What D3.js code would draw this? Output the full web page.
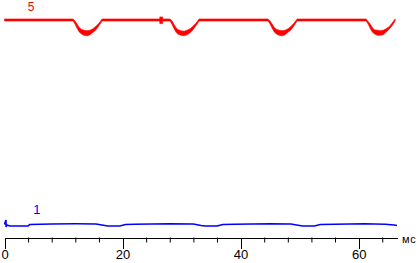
<!DOCTYPE html>
<html>
<head>
<meta charset="utf-8">
<script src="https://cdn.jsdelivr.net/npm/d3@7"></script>
<style>
  html, body { margin: 0; padding: 0; background: #fff; }
  svg { display: block; }
</style>
</head>
<body>
<div id="chart"></div>
<script>
// trace 5 (red): time, upper and lower edge of the band
const redT = [
  0, 11.61, 11.95, 12.29, 12.63, 12.97, 13.47, 13.98, 14.49, 15.00, 15.51, 16.02, 16.53,
  26.30, 26.31, 26.80, 26.81,
  28.05, 28.39, 28.73, 29.07, 29.41, 29.92, 30.42, 30.93, 31.44, 31.95, 32.46, 32.97,
  44.66, 45.00, 45.34, 45.68, 46.02, 46.53, 47.03, 47.54, 48.05, 48.56, 49.07, 49.58,
  61.27, 61.61, 61.95, 62.29, 62.63, 63.14, 63.64, 64.15, 64.66, 65.17, 65.68, 66.19
];
const redHi = [
  5.02, 5.02, 4.98, 4.92, 4.86, 4.82, 4.80, 4.79, 4.80, 4.83, 4.88, 4.94, 5.02,
  5.02, 5.06, 5.06, 5.02,
  5.02, 4.98, 4.91, 4.85, 4.81, 4.79, 4.78, 4.80, 4.83, 4.88, 4.94, 5.02,
  5.02, 4.98, 4.92, 4.86, 4.82, 4.80, 4.79, 4.80, 4.83, 4.88, 4.94, 5.02,
  5.02, 4.97, 4.92, 4.86, 4.81, 4.80, 4.79, 4.80, 4.83, 4.87, 4.94, 5.02
];
const redLo = [
  4.98, 4.98, 4.92, 4.84, 4.77, 4.73, 4.70, 4.69, 4.71, 4.76, 4.81, 4.89, 4.98,
  4.98, 4.93, 4.93, 4.98,
  4.98, 4.91, 4.83, 4.76, 4.72, 4.70, 4.69, 4.71, 4.75, 4.81, 4.89, 4.98,
  4.98, 4.92, 4.84, 4.77, 4.73, 4.70, 4.69, 4.71, 4.76, 4.81, 4.89, 4.98,
  4.98, 4.92, 4.84, 4.77, 4.73, 4.70, 4.70, 4.71, 4.76, 4.82, 4.89, 4.98
];

// trace 1 (blue)
const blueT = [0, 0.25, 0.27, 0.40, 0.90, 4.0, 4.3, 8, 12, 15.5, 16.5, 17.5, 19.5, 20.5, 22,
  28, 32, 33.3, 34, 36, 37, 39, 45, 48.5, 49.5, 50.5, 52.5, 53.5, 56, 61, 64.5, 66, 66.5];
const blueV = [0.996, 1.084, 0.947, 0.986, 0.967, 0.967, 0.996, 1.006, 1.010, 1.006, 0.986, 0.967, 0.967, 0.996, 1.0,
  1.010, 1.006, 0.977, 0.967, 0.967, 0.996, 1.0, 1.010, 1.006, 0.986, 0.967, 0.967, 0.996, 1.0, 1.010, 1.0, 0.986, 0.977];

const majorTicks = [0, 20, 40, 60];
const minorTicks = [4, 8, 12, 16, 24, 28, 32, 36, 44, 48, 52, 56, 64];
const traceLabels = [
  { name: '5', level: 5, t: 4.5, color: '#ff0000', size: 12, dy: -9 },
  { name: '1', level: 1, t: 5.5, color: '#0000ff', size: 13, dy: -10.5 }
];
const unitLabel = 'мс';

const width = 419, height = 263;
const axisY = 237.5;

const svg = d3.select('#chart').append('svg')
  .attr('width', width)
  .attr('height', height);

const xScale = d3.scaleLinear().domain([0, 66.5]).range([4.5, 397]);
const yScale = d3.scaleLinear().domain([1, 5]).range([224.3, 20]);

// axis: minor ticks first, then major ticks with labels
svg.append('g')
  .attr('transform', 'translate(0,' + axisY + ')')
  .call(d3.axisBottom(xScale).tickValues(minorTicks).tickSize(5).tickSizeOuter(0).tickFormat(''))
  .call(g => g.select('.domain').remove());

const xAxis = svg.append('g')
  .attr('transform', 'translate(0,' + axisY + ')')
  .call(d3.axisBottom(xScale).tickValues(majorTicks).tickSize(11).tickSizeOuter(0).tickPadding(1.5).tickFormat(d3.format('d')));
xAxis.selectAll('text')
  .attr('font-family', 'Liberation Sans, Arial, sans-serif')
  .attr('font-size', 13)
  .attr('fill', '#000');
xAxis.selectAll('line, path').attr('stroke', '#000').attr('shape-rendering', 'crispEdges');

svg.append('text')
  .attr('x', 402)
  .attr('y', 243)
  .attr('font-family', 'Liberation Sans, Arial, sans-serif')
  .attr('font-size', 11)
  .attr('letter-spacing', 0.6)
  .attr('fill', '#000')
  .text(unitLabel);

// red band
const redData = redT.map((t, i) => ({ t: t, hi: redHi[i], lo: redLo[i] }));
const area = d3.area()
  .x(d => xScale(d.t))
  .y0(d => yScale(d.lo))
  .y1(d => yScale(d.hi));
svg.append('path')
  .datum(redData)
  .attr('d', area)
  .attr('fill', '#ff0000')
  .attr('stroke', '#ff0000')
  .attr('stroke-width', 0.6);

// blue line
const blueData = blueT.map((t, i) => ({ t: t, v: blueV[i] }));
svg.append('path')
  .datum(blueData)
  .attr('d', d3.line().x(d => xScale(d.t)).y(d => yScale(d.v)))
  .attr('fill', 'none')
  .attr('stroke', '#0000ff')
  .attr('stroke-width', 1.6);

// trace labels
svg.selectAll('.trace-label')
  .data(traceLabels)
  .enter().append('text')
  .attr('class', 'trace-label')
  .attr('x', d => xScale(d.t))
  .attr('y', d => yScale(d.level) + d.dy)
  .attr('text-anchor', 'middle')
  .attr('font-family', 'Liberation Sans, Arial, sans-serif')
  .attr('font-size', d => d.size)
  .attr('fill', d => d.color)
  .text(d => d.name);
</script>
</body>
</html>
